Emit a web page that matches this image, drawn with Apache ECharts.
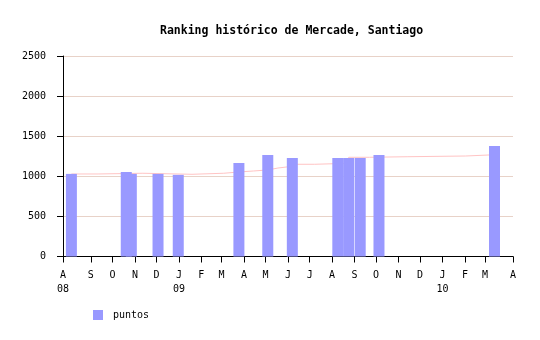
<!DOCTYPE html>
<html>
<head>
<meta charset="utf-8">
<script src="https://cdn.jsdelivr.net/npm/echarts@6/dist/echarts.min.js"></script>
<style>html,body{margin:0;padding:0;background:#fff}#c{width:540px;height:340px}</style>
</head>
<body>
<div id="c"></div>
<script>
const titleText = 'Ranking histórico de Mercade, Santiago';
const seriesName = 'puntos';
const monthLetters = ['J','F','M','A','M','J','J','A','S','O','N','D'];
const yTicks = [0, 500, 1000, 1500, 2000, 2500];
const xMin = '2008-08-01';
const xMax = '2010-04-01';

const barDates = ['2008-08-05','2008-10-20','2008-10-27','2008-12-03','2008-12-31','2009-03-25','2009-05-04','2009-06-07','2009-08-09','2009-08-24','2009-09-09','2009-10-05','2010-03-14'];
const barValues = [1030, 1055, 1030, 1030, 1018, 1166, 1266, 1228, 1228, 1228, 1228, 1266, 1378];

const lineDates = ['2008-08-05','2008-09-11','2008-11-12','2009-01-19','2009-03-04','2009-03-25','2009-04-14','2009-05-04','2009-05-18','2009-06-07','2009-07-08','2009-08-24','2009-09-22','2009-11-13','2010-02-02','2010-03-07'];
const lineValues = [1029, 1038, 1025, 1038, 1054, 1066, 1079, 1103, 1125, 1150, 1162, 1237, 1244, 1253, 1266, 1266];

const mono = 'DejaVu Sans Mono';
const minTime = new Date(2008, 7, 1).getTime();
const chart = echarts.init(document.getElementById('c'), null, {renderer: 'canvas'});
chart.setOption({
  animation: false,
  backgroundColor: '#ffffff',
  title: {
    text: titleText, left: 155, top: 20,
    textStyle: {fontFamily: mono, fontSize: 11.5, fontWeight: 'bold', color: '#000'}
  },
  legend: {
    data: [seriesName], left: 93, top: 310, padding: 0,
    itemWidth: 10, itemHeight: 10, icon: 'rect',
    textStyle: {fontFamily: mono, fontSize: 10, color: '#000', padding: [0,0,0,5]}
  },
  grid: {left: 63, right: 27, top: 56, bottom: 83.5, containLabel: false},
  xAxis: {
    type: 'time',
    min: xMin, max: xMax,
    splitNumber: 20,
    minInterval: 28 * 86400000,
    maxInterval: 31 * 86400000,
    axisLine: {lineStyle: {color: '#000', width: 1}},
    axisTick: {show: true, length: 6, lineStyle: {color: '#000'}},
    splitLine: {show: false},
    axisLabel: {
      fontFamily: mono, fontSize: 10, color: '#000', margin: 12, lineHeight: 14,
      showMinLabel: true, showMaxLabel: true, hideOverlap: false,
      formatter: function (v) {
        const t = Math.max(+v + 12 * 3600000, minTime + 12 * 3600000);
        const d = new Date(t);
        const m = d.getMonth();
        const letter = monthLetters[m];
        const first = (t - minTime) < 5 * 86400000;
        if (m === 0 || first) {
          return letter + '\n' + String(d.getFullYear()).slice(2);
        }
        return letter;
      }
    }
  },
  yAxis: {
    type: 'value', min: yTicks[0], max: yTicks[yTicks.length - 1], interval: 500,
    axisLine: {show: true, lineStyle: {color: '#000'}},
    axisTick: {show: true, length: 6, lineStyle: {color: '#000'}},
    axisLabel: {fontFamily: mono, fontSize: 10, color: '#000', margin: 17, formatter: function (v) { return String(v); }},
    splitLine: {show: true, lineStyle: {color: '#e8d2c8', width: 1}}
  },
  series: [
    {
      type: 'line', name: 'media', step: 'end', showSymbol: false, symbol: 'none',
      data: lineDates.map((d, i) => [d, lineValues[i]]),
      lineStyle: {color: '#ffc4c4', width: 1},
      itemStyle: {color: '#ffc4c4'},
      z: 1
    },
    {
      type: 'bar', name: seriesName, barWidth: 11,
      data: barDates.map((d, i) => [d, barValues[i]]),
      itemStyle: {color: '#9999ff'},
      z: 2
    }
  ]
});
</script>
</body>
</html>
